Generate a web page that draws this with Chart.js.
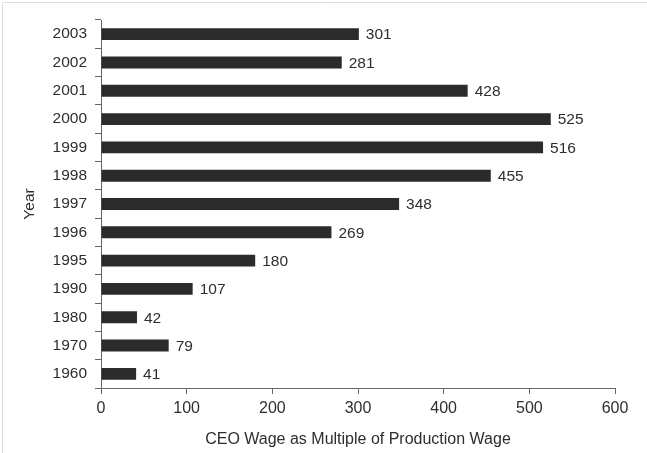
<!DOCTYPE html>
<html>
<head>
<meta charset="utf-8">
<script src="https://cdn.jsdelivr.net/npm/chart.js@4"></script>
<style>
  body { margin: 0; background: #fff; }
  #wrap { width: 647px; height: 453px; }
</style>
</head>
<body>
<div id="wrap"><canvas id="barChart"></canvas></div>
<script>
var years = ['2003', '2002', '2001', '2000', '1999', '1998', '1997', '1996', '1995', '1990', '1980', '1970', '1960'];
var multiples = [301, 281, 428, 525, 516, 455, 348, 269, 180, 107, 42, 79, 41];
var xTicks = [0, 100, 200, 300, 400, 500, 600];

var textColor = '#2e2e2e';
var family = 'Liberation Sans, Arial, sans-serif';
var yFont = { family: family, size: 15.5 };
var xFont = { family: family, size: 16 };

// value labels to the right of each bar
var valueLabels = {
  id: 'valueLabels',
  afterDatasetsDraw: function(chart) {
    var ctx = chart.ctx;
    var meta = chart.getDatasetMeta(0);
    ctx.save();
    ctx.font = yFont.size + 'px ' + family;
    ctx.fillStyle = textColor;
    ctx.textAlign = 'left';
    ctx.textBaseline = 'middle';
    meta.data.forEach(function(bar, i) {
      ctx.fillText(multiples[i], bar.x + 7, bar.y + 1);
    });
    ctx.restore();
  }
};

// faint frame on the left and top edges
var frame = {
  id: 'frame',
  beforeDraw: function(chart) {
    var ctx = chart.ctx;
    ctx.save();
    ctx.strokeStyle = '#ddd';
    ctx.lineWidth = 1;
    ctx.beginPath();
    ctx.moveTo(2.5, 453);
    ctx.lineTo(2.5, 2.5);
    ctx.lineTo(647, 2.5);
    ctx.stroke();
    ctx.restore();
  }
};

var ctx = document.getElementById('barChart').getContext('2d');
var myBarChart = new Chart(ctx, {
  type: 'bar',
  data: {
    labels: years,
    datasets: [{
      data: multiples,
      backgroundColor: '#2b2b2b',
      barPercentage: 0.42,
      categoryPercentage: 1
    }]
  },
  options: {
    indexAxis: 'y',
    responsive: true,
    maintainAspectRatio: false,
    animation: false,
    layout: { padding: { top: 20, right: 32, left: 0, bottom: 0 } },
    plugins: {
      legend: { display: false },
      tooltip: { enabled: false }
    },
    scales: {
      x: {
        min: 0,
        max: 600,
        afterBuildTicks: function(scale) {
          scale.ticks = xTicks.map(function(v) { return { value: v }; });
        },
        afterFit: function(scale) { scale.height = 65; },
        border: { color: '#666', width: 1 },
        grid: { drawOnChartArea: false, drawTicks: true, tickLength: 6, color: '#666' },
        ticks: { color: textColor, font: xFont, padding: 5 },
        title: {
          display: true,
          text: 'CEO Wage as Multiple of Production Wage',
          color: textColor,
          font: xFont,
          padding: { top: 3 }
        }
      },
      y: {
        afterFit: function(scale) { scale.width = 101; },
        border: { color: '#666', width: 1 },
        grid: { drawOnChartArea: false, drawTicks: true, tickLength: 6, color: '#666' },
        ticks: { color: textColor, font: yFont, padding: 8 },
        title: {
          display: true,
          text: 'Year',
          color: textColor,
          font: yFont,
          padding: { top: 20, bottom: 0 }
        }
      }
    }
  },
  plugins: [valueLabels, frame]
});
</script>
</body>
</html>
